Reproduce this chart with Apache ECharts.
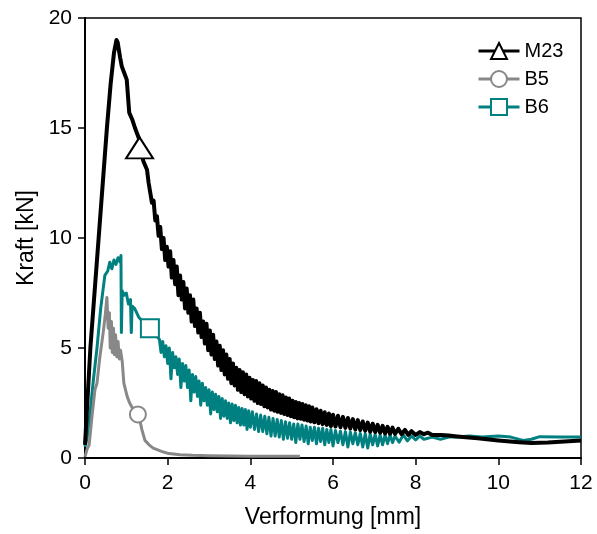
<!DOCTYPE html>
<html>
<head>
<meta charset="utf-8">
<script src="https://cdn.jsdelivr.net/npm/echarts@6/dist/echarts.min.js"></script>
<style>html,body{margin:0;padding:0;background:#fff}#c{width:597px;height:534px}</style>
</head>
<body>
<div id="c"></div>
<script>
// Series names
var seriesNames = ['M23', 'B5', 'B6'];
// Axis ticks
var xTicks = [0, 2, 4, 6, 8, 10, 12];
var yTicks = [0, 5, 10, 15, 20];

// M23 : [Verformung mm, Kraft kN]
var m23 = [
[0,0.6],[0.13,5],[0.33,10],[0.53,15],[0.62,17],[0.7,18.4],[0.76,19.0],[0.79,18.9],
[0.85,18.2],[0.89,17.8],[0.95,17.5],[1.01,17.2],[1.07,15.7],[1.14,15.4],[1.21,15.0],[1.31,14.5],[1.41,13.5],
[1.50,13.1],[1.54,12.5],[1.58,12.5],[1.62,11.6],[1.66,11.7],[1.70,10.8],[1.74,11.0],[1.78,10.1],[1.82,10.5],
[1.86,9.5],[1.90,10.0],[1.94,9.0],[1.98,9.6],[2.02,8.7],[2.06,9.4],[2.10,8.2],[2.14,9.0],[2.18,7.9],[2.22,8.7],
[2.26,7.4],[2.30,8.3],[2.34,7.2],[2.38,8.0],[2.42,6.8],[2.46,7.7],[2.50,6.6],[2.54,7.4],[2.58,6.2],[2.62,7.2],
[2.66,6.0],[2.70,6.8],[2.74,5.7],[2.78,6.6],[2.82,5.5],[2.86,6.2],[2.90,5.2],[2.94,6.1],[2.98,4.9],[3.02,5.8],
[3.06,4.7],[3.10,5.6],[3.14,4.5],[3.18,5.3],[3.22,4.2],[3.26,5.1],[3.30,4.0],[3.34,4.9],[3.38,3.8],[3.42,4.7],
[3.46,3.6],[3.50,4.5],[3.54,3.4],[3.58,4.3],[3.62,3.3],[3.66,4.1],[3.70,3.1],[3.74,4.0],[3.78,3.0],[3.82,3.9],
[3.86,2.9],[3.90,3.8],[3.94,2.8],[3.98,3.65],[4.02,2.7],[4.06,3.55],[4.10,2.6],[4.14,3.5],[4.18,2.5],[4.22,3.4],
[4.26,2.45],[4.30,3.3],[4.34,2.35],[4.38,3.2],[4.42,2.3],[4.46,3.1],[4.50,2.2],[4.54,3.05],[4.58,2.15],[4.62,3.0],
[4.66,2.1],[4.70,2.9],[4.74,2.05],[4.78,2.85],[4.82,2.0],[4.86,2.75],[4.90,1.95],[4.94,2.7],[4.98,1.9],[5.02,2.6],
[5.06,1.85],[5.10,2.55],[5.14,1.8],[5.18,2.5],[5.22,1.78],[5.26,2.45],[5.30,1.74],[5.34,2.4],[5.38,1.7],[5.42,2.35],
[5.46,1.66],[5.50,2.3],[5.55,1.62],[5.60,2.22],[5.65,1.58],[5.70,2.15],[5.75,1.54],[5.80,2.08],[5.85,1.5],[5.90,2.02],
[5.95,1.45],[6.00,1.97],[6.06,1.43],[6.12,1.92],[6.18,1.4],[6.24,1.87],[6.30,1.37],[6.36,1.82],[6.42,1.34],[6.48,1.77],
[6.54,1.3],[6.60,1.72],[6.66,1.27],[6.72,1.66],[6.78,1.24],[6.84,1.61],[6.90,1.2],[6.96,1.56],[7.02,1.18],[7.08,1.51],
[7.14,1.15],[7.20,1.46],[7.26,1.12],[7.32,1.42],[7.38,1.1],[7.44,1.38],[7.50,1.1],[7.58,1.33],[7.66,1.08],[7.74,1.28],
[7.82,1.05],[7.90,1.22],[8.00,1.05],[8.10,1.18],[8.20,1.08],[8.30,1.15],[8.40,1.05],[8.60,1.05],[8.80,1.02],[9.00,0.98],
[9.50,0.9],[10.0,0.8],[10.5,0.72],[10.8,0.68],[11.2,0.7],[11.6,0.75],[12.0,0.8]
];

// B5
var b5 = [
[0,0.05],[0.05,0.4],[0.1,0.6],[0.17,1.9],[0.24,3.1],[0.29,3.4],[0.36,4.6],[0.44,5.7],[0.49,6.5],[0.53,7.3],
[0.56,5.9],[0.59,6.6],[0.61,5.0],[0.64,6.2],[0.66,4.8],[0.69,5.9],[0.71,4.7],[0.74,5.6],[0.77,4.6],[0.80,5.3],
[0.83,4.5],[0.86,4.9],[0.90,4.4],[0.94,3.4],[1.02,2.8],[1.08,2.5],[1.14,2.3],[1.2,2.2],[1.28,2.0],[1.34,1.6],
[1.38,1.27],[1.45,0.8],[1.55,0.6],[1.65,0.45],[1.79,0.35],[1.9,0.27],[2.03,0.2],[2.3,0.15],[2.6,0.12],[3.0,0.1],
[3.5,0.09],[4.0,0.08],[4.5,0.08],[5.0,0.08],[5.2,0.08]
];

// B6
var b6 = [
[0,0.5],[0.05,0.9],[0.12,2.0],[0.2,3.5],[0.29,5.0],[0.38,6.8],[0.48,8.3],[0.55,8.5],[0.6,8.9],[0.65,8.6],
[0.7,9.0],[0.75,8.8],[0.8,9.1],[0.85,8.9],[0.87,9.2],[0.88,5.7],[0.9,7.6],[0.95,7.4],[1.0,7.5],[1.05,7.0],
[1.1,7.2],[1.12,5.7],[1.14,6.9],[1.2,6.8],[1.3,6.4],[1.4,6.2],[1.5,6.0],[1.6,5.8],[1.7,5.6],
[1.80,5.4],[1.84,4.8],[1.88,5.3],[1.92,4.6],[1.96,5.1],[2.00,4.3],[2.04,5.0],[2.08,3.6],[2.12,4.8],[2.16,4.1],
[2.20,4.6],[2.24,3.8],[2.28,4.5],[2.32,3.2],[2.36,4.3],[2.40,3.5],[2.44,4.2],[2.48,3.2],[2.52,4.0],[2.56,2.6],
[2.60,3.8],[2.64,3.0],[2.68,3.7],[2.72,2.8],[2.76,3.5],[2.80,2.4],[2.84,3.4],[2.88,2.6],[2.92,3.2],[2.96,2.4],
[3.00,3.1],[3.04,2.0],[3.08,3.0],[3.12,2.2],[3.16,2.9],[3.20,2.1],[3.24,2.8],[3.28,1.8],[3.32,2.7],[3.36,1.9],
[3.40,2.6],[3.44,1.8],[3.48,2.5],[3.52,1.6],[3.56,2.45],[3.60,1.7],[3.64,2.4],[3.68,1.6],[3.72,2.3],[3.76,1.5],
[3.80,2.25],[3.84,1.5],[3.88,2.2],[3.92,1.3],[3.96,2.15],[4.00,1.4],[4.05,2.1],[4.10,1.3],[4.15,2.0],[4.20,1.2],
[4.25,1.95],[4.30,1.2],[4.35,1.9],[4.40,1.1],[4.45,1.85],[4.50,1.0],[4.55,1.8],[4.60,1.0],[4.65,1.75],[4.70,0.95],
[4.75,1.7],[4.80,0.85],[4.85,1.65],[4.90,0.9],[4.95,1.6],[5.00,0.85],[5.05,1.55],[5.10,0.7],[5.15,1.55],[5.20,0.85],
[5.25,1.5],[5.30,0.75],[5.35,1.45],[5.40,0.65],[5.45,1.4],[5.50,0.8],[5.55,1.4],[5.60,0.65],[5.65,1.35],[5.70,0.75],
[5.75,1.35],[5.80,0.6],[5.85,1.3],[5.90,0.7],[5.95,1.3],[6.00,0.55],[6.06,1.25],[6.12,0.7],[6.18,1.22],[6.24,0.6],
[6.30,1.2],[6.36,0.5],[6.42,1.18],[6.48,0.65],[6.54,1.15],[6.60,0.6],[6.66,1.12],[6.72,0.5],[6.78,1.1],[6.84,0.45],
[6.90,1.1],[6.96,0.6],[7.02,1.08],[7.08,0.55],[7.14,1.05],[7.20,0.6],[7.26,1.05],[7.32,0.65],[7.38,1.05],[7.44,0.7],
[7.50,1.0],[7.60,0.72],[7.70,1.05],[7.80,0.78],[7.90,1.0],[8.00,0.82],[8.10,1.0],[8.20,0.85],[8.40,0.95],[8.60,0.85],
[8.80,0.95],[9.00,0.95],[9.30,1.0],[9.60,0.95],[10.0,1.0],[10.3,0.95],[10.6,0.8],[10.8,0.85],[11.0,0.97],[11.5,0.95],[12.0,0.95]
];

// Marker positions on each curve
var m23Marker = [1.32, 14.1];
var b5Marker = [1.28, 1.98];
var b6Marker = [1.57, 5.9];

var FONT = "'Liberation Sans', Arial, sans-serif";
var colors = {M23: '#000000', B5: '#888888', B6: '#008080'};

var chart = echarts.init(document.getElementById('c'), null, {renderer: 'canvas'});

function mk(coord, symbol, size, color) {
  return {
    symbol: symbol,
    symbolSize: size,
    silent: true,
    label: {show: false},
    itemStyle: {color: '#fff', borderColor: color, borderWidth: 2},
    data: [{coord: coord}]
  };
}

chart.setOption({
  animation: false,
  textStyle: {fontFamily: FONT},
  grid: {left: 85, right: 16, top: 18, bottom: 76, show: true, borderColor: '#000', borderWidth: 1.5, backgroundColor: 'transparent'},
  legend: {
    data: seriesNames,
    orient: 'vertical',
    left: 472,
    top: 36,
    itemWidth: 41,
    itemHeight: 20,
    itemGap: 8,
    lineStyle: {width: 3},
    textStyle: {fontSize: 20, color: '#000', fontFamily: FONT}
  },
  xAxis: {
    type: 'value', min: xTicks[0], max: xTicks[xTicks.length - 1], interval: 2,
    name: 'Verformung [mm]', nameLocation: 'middle', nameGap: 48,
    nameTextStyle: {fontSize: 23, color: '#000', fontFamily: FONT},
    axisLine: {show: true, lineStyle: {color: '#000', width: 2}},
    axisTick: {show: true, inside: false, length: 7, lineStyle: {color: '#000', width: 1.5}},
    axisLabel: {fontSize: 21, color: '#000', margin: 15, fontFamily: FONT},
    splitLine: {show: false}
  },
  yAxis: {
    type: 'value', min: yTicks[0], max: yTicks[yTicks.length - 1], interval: 5,
    name: 'Kraft [kN]', nameLocation: 'middle', nameGap: 47,
    nameTextStyle: {fontSize: 23, color: '#000', fontFamily: FONT},
    axisLine: {show: true, lineStyle: {color: '#000', width: 2}},
    axisTick: {show: true, inside: false, length: 7, lineStyle: {color: '#000', width: 1.5}},
    axisLabel: {fontSize: 21, color: '#000', margin: 13, fontFamily: FONT},
    splitLine: {show: false}
  },
  series: [
    {
      name: 'B6', type: 'line', data: b6, showSymbol: false, symbol: 'emptyRect', z: 2,
      color: colors.B6, lineStyle: {width: 3, color: colors.B6, join: 'round'},
      markPoint: mk(b6Marker, 'rect', 18, colors.B6)
    },
    {
      name: 'B5', type: 'line', data: b5, showSymbol: false, symbol: 'emptyCircle', z: 3,
      color: colors.B5, lineStyle: {width: 3, color: colors.B5, join: 'round'},
      markPoint: mk(b5Marker, 'circle', 16, colors.B5)
    },
    {
      name: 'M23', type: 'line', data: m23, showSymbol: false, symbol: 'emptyTriangle', z: 4,
      color: colors.M23, lineStyle: {width: 4, color: colors.M23, join: 'round'},
      markPoint: mk(m23Marker, 'triangle', [27, 21], colors.M23)
    }
  ]
});
</script>
</body>
</html>
